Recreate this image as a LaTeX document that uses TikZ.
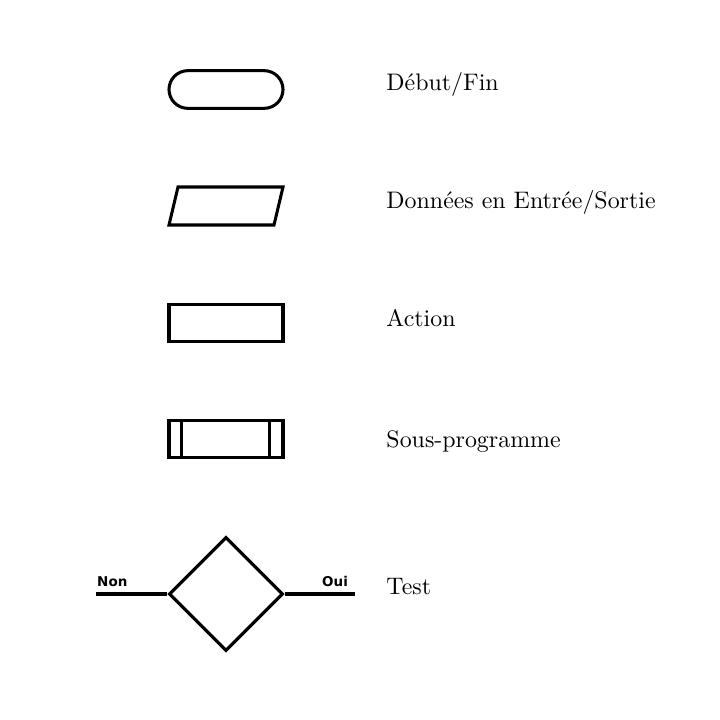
\documentclass[tikz,border=0pt]{standalone}
\usepackage{fontspec}
\newfontfamily\labelfont{DejaVu Sans}
\usetikzlibrary{shapes, positioning}

\begin{document}
\begin{tikzpicture}[
    x = 0.03cm,
    y = -0.03cm,
    symbol/.style = {draw, line width=2.6pt, minimum width=3.42cm, minimum height=1.13cm, inner sep=0pt},
    terminal/.style = {symbol, rounded rectangle},
    action/.style = {symbol, rectangle},
    test/.style = {symbol, diamond, minimum width=3.42cm, minimum height=3.42cm},
    legend/.style = {anchor=base west, inner sep=0pt, font=\fontsize{10}{12}\selectfont, scale=2.04, transform shape},
    branch/.style = {anchor=base west, inner sep=0pt, font=\labelfont\bfseries\fontsize{11.5}{13}\selectfont},
    line/.style = {line width=2.6pt}
]
    \useasboundingbox (0,0) rectangle (720,719);

    % Nodes
    \node [terminal] (start) at (226,89.5) {};
    \coordinate (io) at (226,206);
    \draw [line, line join=miter] ([shift={(-48,-19)}]io) -- ([shift={(57,-19)}]io) -- ([shift={(48,19)}]io) -- ([shift={(-57,19)}]io) -- cycle;
    \node [action] (act) at (226,323) {};
    \node [action] (sub) at (226,439) {};
    \node [test] (cond) at (226,594) {};

    % Sub-program bars
    \draw [line width=1.8pt] ([xshift=0.42cm]sub.north west) -- ([xshift=0.42cm]sub.south west);
    \draw [line width=1.8pt] ([xshift=-0.45cm]sub.north east) -- ([xshift=-0.45cm]sub.south east);

    % Branches of the test
    \coordinate (no) at (96,594);
    \coordinate (yes) at (355,594);
    \draw [line] (cond.west) -- (no);
    \draw [line] (cond.east) -- (yes);
    \node [branch] (nolabel) at (97,586) {Non};
    \node [branch] (yeslabel) at (322,586) {Oui};

    % Legend
    \node [legend] (tstart) at (386,90) {Début/Fin};
    \node [legend] (tio) at (386,208) {Données en Entrée/Sortie};
    \node [legend] (tact) at (386,326) {Action};
    \node [legend] (tsub) at (386,447) {Sous-programme};
    \node [legend] (ttest) at (386,594) {Test};

\end{tikzpicture}
\end{document}
